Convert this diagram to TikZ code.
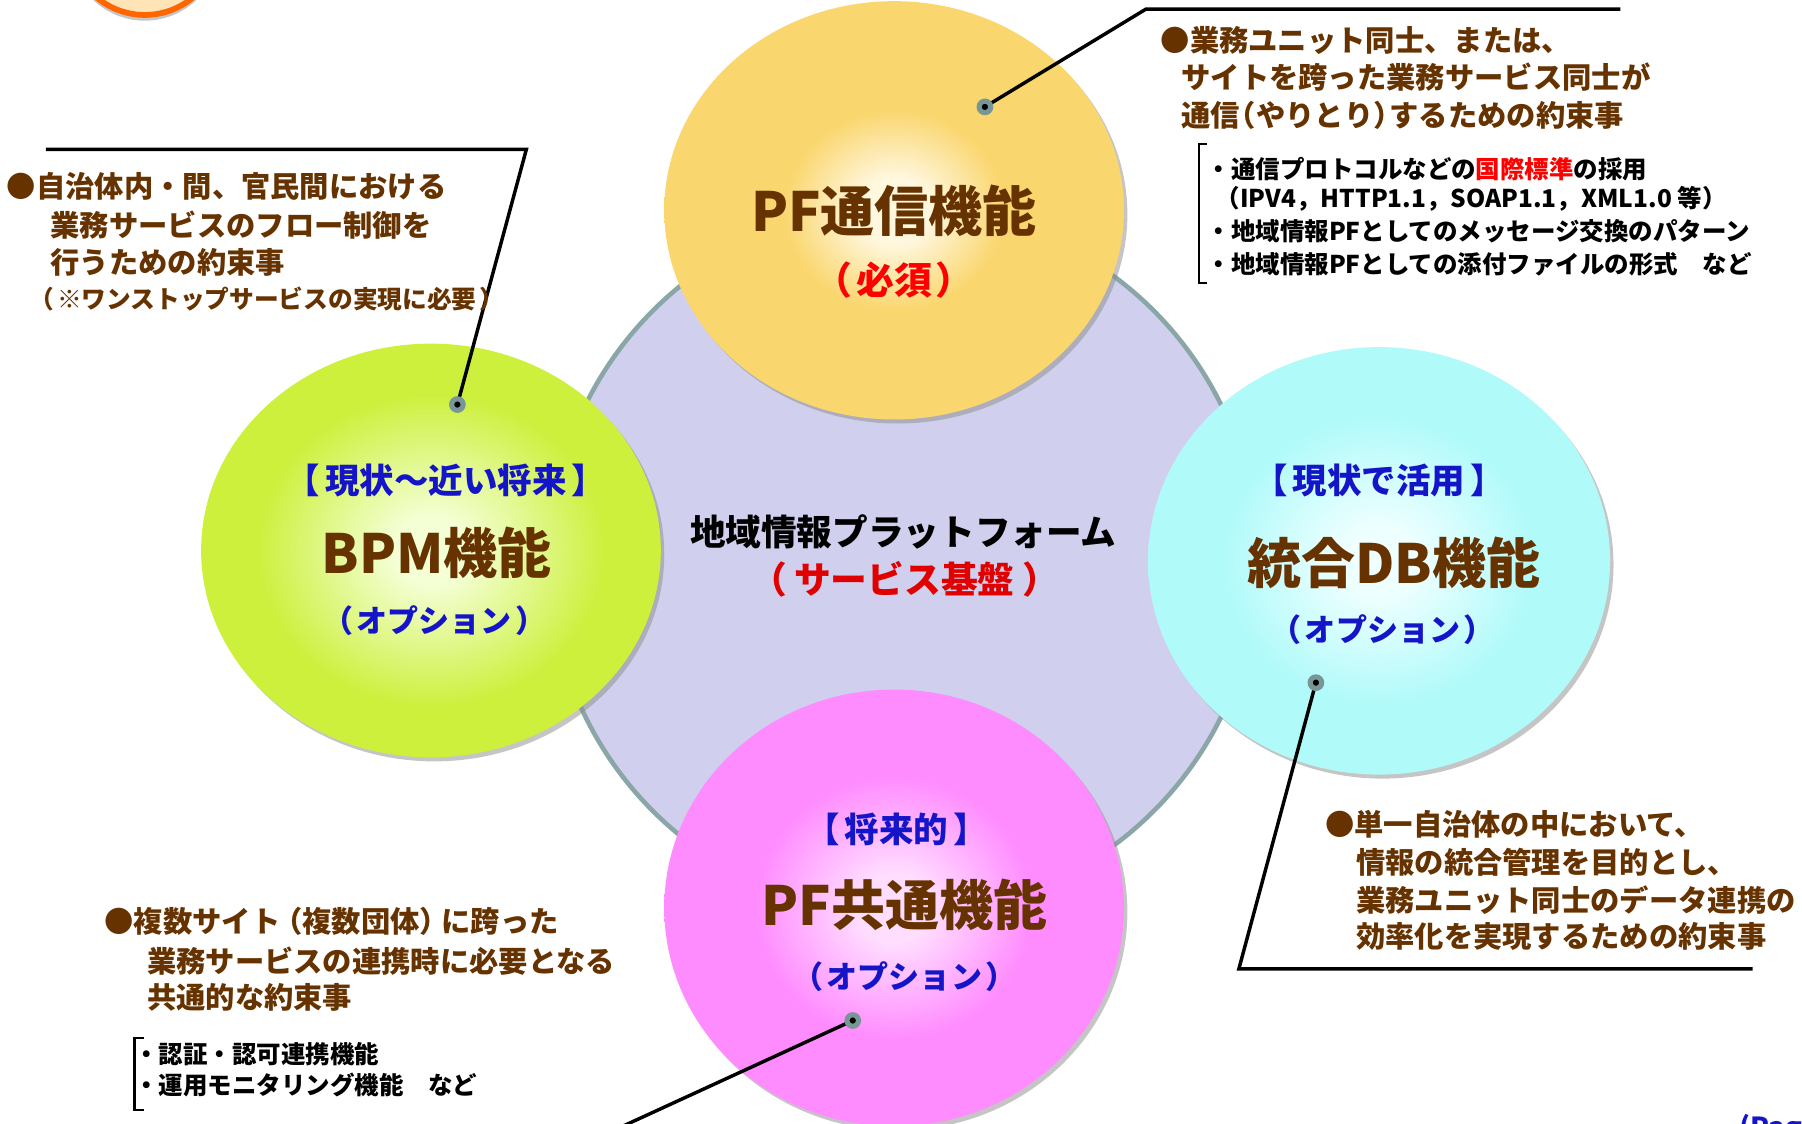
\documentclass[tikz,border=0pt]{standalone}
\usepackage{fontspec}
\setmainfont{Noto Sans CJK JP}
\usetikzlibrary{shapes.geometric,shadows}
\definecolor{brownt}{HTML}{663300}
\definecolor{bluet}{HTML}{1414C8}
\definecolor{redt}{HTML}{FF0000}
\definecolor{redd}{HTML}{E00000}
\definecolor{lav}{HTML}{D0D0EE}
\definecolor{lavb}{HTML}{8AA6A6}
\definecolor{pinring}{HTML}{789696}
\definecolor{yc0}{HTML}{FFF7DE}
\definecolor{yc1}{HTML}{FAD66E}
\definecolor{gc0}{HTML}{F4FFD6}
\definecolor{gc1}{HTML}{CCF03C}
\definecolor{cc0}{HTML}{EEFFFF}
\definecolor{cc1}{HTML}{B0FAFA}
\definecolor{pc0}{HTML}{FFDDFF}
\definecolor{pc1}{HTML}{FF8CFF}
\definecolor{peach}{HTML}{FFE4B8}
\definecolor{orangeb}{HTML}{FF6600}
\pgfdeclareradialshading{ysh}{\pgfpoint{0bp}{0bp}}{color(0bp)=(yc0); color(4bp)=(yc0); color(12bp)=(yc1); color(25bp)=(yc1); color(50bp)=(yc1)}
\pgfdeclareradialshading{gsh}{\pgfpoint{0bp}{0bp}}{color(0bp)=(gc0); color(4bp)=(gc0); color(19bp)=(gc1); color(25bp)=(gc1); color(50bp)=(gc1)}
\pgfdeclareradialshading{csh}{\pgfpoint{0bp}{0bp}}{color(0bp)=(cc0); color(4bp)=(cc0); color(17bp)=(cc1); color(25bp)=(cc1); color(50bp)=(cc1)}
\pgfdeclareradialshading{psh}{\pgfpoint{0bp}{0bp}}{color(0bp)=(pc0); color(4bp)=(pc0); color(15bp)=(pc1); color(25bp)=(pc1); color(50bp)=(pc1)}
% slightly wide-set brackets
\newcommand{\lpar}{（\kern0.1em}
\newcommand{\rpar}{\kern0.1em）}
\newcommand{\lbrk}{【\kern0.15em}
\newcommand{\rbrk}{\kern0.15em】}
\tikzset{
  fs/.style={font=\bfseries\fontsize{#1}{#1}\selectfont},
  txt/.style={inner sep=0pt, outer sep=0pt},
  title/.style={txt, fs=47, text=brownt},
  tag/.style={txt, fs=30, text=bluet},
  opt/.style={txt, fs=27, text=bluet},
  note/.style={txt, fs=25.5, text=brownt, anchor=west},
  sub/.style={txt, fs=21.3, text=black, anchor=west},
  leader/.style={line width=3pt, black},
  bracket/.style={line width=2pt, black},
  pin/.style={circle, fill=black, draw=pinring, line width=4.5pt, minimum size=10pt, inner sep=0pt},
  ball/.style={ellipse, inner sep=0pt, draw=none, drop shadow={shadow xshift=3pt, shadow yshift=-3.5pt, fill=black!45}},
}
\begin{document}
\begin{tikzpicture}[x=1pt, y=-1pt]
\useasboundingbox (0,0) rectangle (1568,978);
% top-left logo fragment
\node[circle, minimum size=130pt, fill=peach, draw=orangeb, line width=5pt, drop shadow={shadow xshift=0pt, shadow yshift=-5pt, fill=black!45}] (logo) at (126,-52) {};
% base circle
\node[circle, minimum size=616pt, fill=lav, draw=lavb, line width=4pt] (base) at (786,488) {};
% four function circles
\node[ball, minimum width=400pt, minimum height=364pt, shading=ysh] (pfc) at (778,183) {};
\node[ball, minimum width=400pt, minimum height=360pt, shading=gsh] (bpm) at (375,479) {};
\node[ball, minimum width=402pt, minimum height=372pt, shading=csh] (db) at (1200,488) {};
\node[ball, minimum width=400pt, minimum height=380pt, shading=psh] (pfk) at (778,790) {};
% central text
\node[txt, fs=31, text=black] (cen1) at (786,463) {地域情報プラットフォーム};
\node[txt, fs=32, text=redd] (cen2) at (787,504) {（\kern0.2em サービス基盤\kern0.2em）};
% PF communication
\node[title] (y1) at (778,183) {PF通信機能};
\node[txt, fs=33, text=redt] (y2) at (778,244) {\lpar 必須\rpar};
% BPM
\node[tag] (b1) at (388,418) {\lbrk 現状～近い将来\rbrk};
\node[title] (b2) at (380,481) {BPM機能};
\node[opt] (b3) at (378,540) {\lpar オプション\rpar};
% DB
\node[tag] (c1) at (1200,418) {\lbrk 現状で活用\rbrk};
\node[title] (c2) at (1213,490) {統合DB機能};
\node[opt] (c3) at (1203,548) {\lpar オプション\rpar};
% PF common
\node[tag] (p1) at (780,722) {\lbrk 将来的\rbrk};
\node[title] (p2) at (787,787) {PF共通機能};
\node[opt] (p3) at (787,850) {\lpar オプション\rpar};
% leader coordinates
\coordinate (ptTR) at (857,93);
\coordinate (kTR1) at (997,8);
\coordinate (kTR2) at (1410,8);
\coordinate (ptL) at (398,352);
\coordinate (kL1) at (458,130);
\coordinate (kL2) at (40,130);
\coordinate (ptR) at (1145,594);
\coordinate (kR1) at (1078,843);
\coordinate (kR2) at (1525,843);
\coordinate (ptB) at (742,888);
\coordinate (kB1) at (520,990);
\draw[leader] (ptTR) -- (kTR1) -- (kTR2);
\draw[leader] (ptL) -- (kL1) -- (kL2);
\draw[leader] (ptR) -- (kR1) -- (kR2);
\draw[leader] (ptB) -- (kB1);
\node[pin] (dotTR) at (ptTR) {};
\node[pin] (dotL) at (ptL) {};
\node[pin] (dotR) at (ptR) {};
\node[pin] (dotB) at (ptB) {};
% top-right note
\node[note] (tr1) at (1010,35) {●業務ユニット同士、または、};
\node[note] (tr2) at (1028,67) {サイトを跨った業務サービス同士が};
\node[note] (tr3) at (1028,100) {通信\kern-0.45em（やりとり）\kern-0.45emするための約束事};
\draw[bracket] (1050,125) -- (1043,125) -- (1043,246) -- (1050,246);
\node[sub] (tr4) at (1050,147) {・通信プロトコルなどの\textcolor{redt}{国際標準}の採用};
\node[sub] (tr5) at (1058,173) {（IPV4，HTTP1.1，SOAP1.1，XML1.0 等）};
\node[sub] (tr6) at (1050,201) {・地域情報PFとしてのメッセージ交換のパターン};
\node[sub] (tr7) at (1050,230) {・地域情報PFとしての添付ファイルの形式　など};
% left note
\node[note] (l1) at (6,162) {●自治体内・間、官民間における};
\node[note] (l2) at (44,196) {業務サービスのフロー制御を};
\node[note] (l3) at (44,228) {行うための約束事};
\node[txt, fs=21.5, text=brownt, anchor=west] (l4) at (26,260) {（\kern0.1em ※ワンストップサービスの実現に必要\kern0.1em）};
% right note
\node[note] (r1) at (1153,717) {●単一自治体の中において、};
\node[note] (r2) at (1180,750) {情報の統合管理を目的とし、};
\node[note] (r3) at (1180,783) {業務ユニット同士のデータ連携の};
\node[note] (r4) at (1180,815) {効率化を実現するための約束事};
% bottom-left note
\node[note] (bl1) at (91,802) {●複数サイト\kern-0.25em（複数団体）\kern-0.25emに跨った};
\node[note] (bl2) at (128,836) {業務サービスの連携時に必要となる};
\node[note] (bl3) at (128,868) {共通的な約束事};
\draw[bracket] (125,903) -- (117,903) -- (117,966) -- (125,966);
\node[sub] (bl4) at (117,917) {・認証・認可連携機能};
\node[sub] (bl5) at (117,944) {・運用モニタリング機能　など};
% page label (cut off by the page edge, as in the source)
\node[txt, fs=24, text=bluet, anchor=base west] (pg) at (1514,990) {(Pag};
\end{tikzpicture}
\end{document}
